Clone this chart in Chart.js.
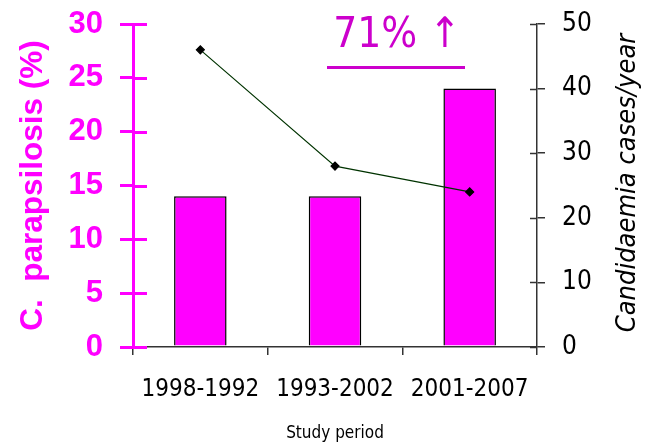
<!DOCTYPE html>
<html>
<head>
<meta charset="utf-8">
<script src="https://cdn.jsdelivr.net/npm/chart.js@4"></script>
<style>
  html, body { margin: 0; padding: 0; background: #fff; }
  #wrap { width: 646px; height: 444px; }
</style>
</head>
<body>
<div id="wrap"><canvas id="myChart" width="646" height="444"></canvas></div>
<script>
const periods = ["1998-1992", "1993-2002", "2001-2007"];
const parapsilosisPct = [14, 14, 24];
const casesPerYear = [46, 28, 24];
const leftTicks = [0, 5, 10, 15, 20, 25, 30];
const rightTicks = [0, 10, 20, 30, 40, 50];

const comic = "'DejaVu Sans Condensed', 'DejaVu Sans', sans-serif";
const magenta = "#ff00ff";

// inner halves of the axis ticks, the increase note and the right title
const extras = {
  id: "extras",
  afterDraw(chart) {
    const ctx = chart.ctx;
    const yl = chart.scales.y;
    const yr = chart.scales.y2;
    ctx.save();
    ctx.strokeStyle = magenta;
    ctx.lineWidth = 3;
    leftTicks.forEach(v => {
      const py = Math.round(yl.getPixelForValue(v)) + 0.5;
      ctx.beginPath();
      ctx.moveTo(yl.right, py);
      ctx.lineTo(yl.right + 14, py);
      ctx.stroke();
    });
    ctx.strokeStyle = "#333";
    ctx.lineWidth = 1.5;
    rightTicks.forEach(v => {
      const py = Math.round(yr.getPixelForValue(v)) + 0.5;
      ctx.beginPath();
      ctx.moveTo(yr.left - 7, py);
      ctx.lineTo(yr.left, py);
      ctx.stroke();
    });

    // 71% up note
    ctx.fillStyle = "#cc00cc";
    ctx.font = "42px " + comic;
    ctx.textAlign = "center";
    ctx.textBaseline = "alphabetic";
    ctx.fillText("71% \u2191", 397, 47);
    ctx.fillRect(327, 66, 138, 3);

    // right axis title, reading upward
    ctx.fillStyle = "#000";
    ctx.font = "italic 27px " + comic;
    ctx.translate(628, 183);
    ctx.rotate(-Math.PI / 2);
    ctx.textBaseline = "middle";
    ctx.fillText("Candidaemia cases/year", 0, 0);
    ctx.restore();
  }
};

const fitY = w => s => {
  s.width = w;
  s.paddingTop = 0;
  s.paddingBottom = 0;
};

new Chart("myChart", {
  data: {
    labels: periods,
    datasets: [
      {
        type: "line",
        data: casesPerYear,
        yAxisID: "y2",
        borderColor: "#003300",
        borderWidth: 1.2,
        pointStyle: "rectRot",
        pointRadius: 4,
        pointBackgroundColor: "#000",
        pointBorderColor: "#000",
        order: 0
      },
      {
        type: "bar",
        data: parapsilosisPct,
        yAxisID: "y",
        backgroundColor: magenta,
        borderColor: "#000",
        borderWidth: 1.5,
        categoryPercentage: 1,
        barPercentage: 0.39,
        order: 1
      }
    ]
  },
  options: {
    responsive: false,
    animation: false,
    layout: { padding: { top: 24, left: 0, right: 0, bottom: 0 } },
    plugins: { legend: { display: false }, tooltip: { enabled: false } },
    scales: {
      x: {
        afterFit: s => { s.height = 97; },
        grid: { drawOnChartArea: false, tickLength: 8, color: "#333", lineWidth: 1.5 },
        border: { color: "#333", width: 1.5 },
        ticks: { color: "#000", font: { family: comic, size: 24 }, padding: 20, maxRotation: 0 },
        title: { display: true, text: "Study period", color: "#000", font: { family: comic, size: 17 }, padding: { top: 0, bottom: 0 } }
      },
      y: {
        position: "left",
        min: 0, max: 30,
        afterFit: fitY(133),
        afterBuildTicks: s => { s.ticks = leftTicks.map(v => ({ value: v })); },
        grid: { drawOnChartArea: false, tickLength: 13, color: magenta, lineWidth: 3 },
        border: { color: magenta, width: 3 },
        ticks: { color: magenta, font: { family: "'Liberation Sans', Arial, sans-serif", size: 31, weight: "bold" }, padding: 17 },
        title: { display: true, text: "C.  parapsilosis (%)", color: magenta, font: { family: "'Liberation Sans', Arial, sans-serif", size: 31.5, weight: "bold" }, padding: { top: 14, bottom: 0 } }
      },
      y2: {
        position: "right",
        min: 0, max: 50,
        afterFit: fitY(109),
        afterBuildTicks: s => { s.ticks = rightTicks.map(v => ({ value: v })); },
        grid: { drawOnChartArea: false, tickLength: 8, color: "#333", lineWidth: 1.5 },
        border: { color: "#333", width: 1.5 },
        ticks: { color: "#000", font: { family: comic, size: 26 }, padding: 17 }
      }
    }
  },
  plugins: [extras]
});
</script>
</body>
</html>
